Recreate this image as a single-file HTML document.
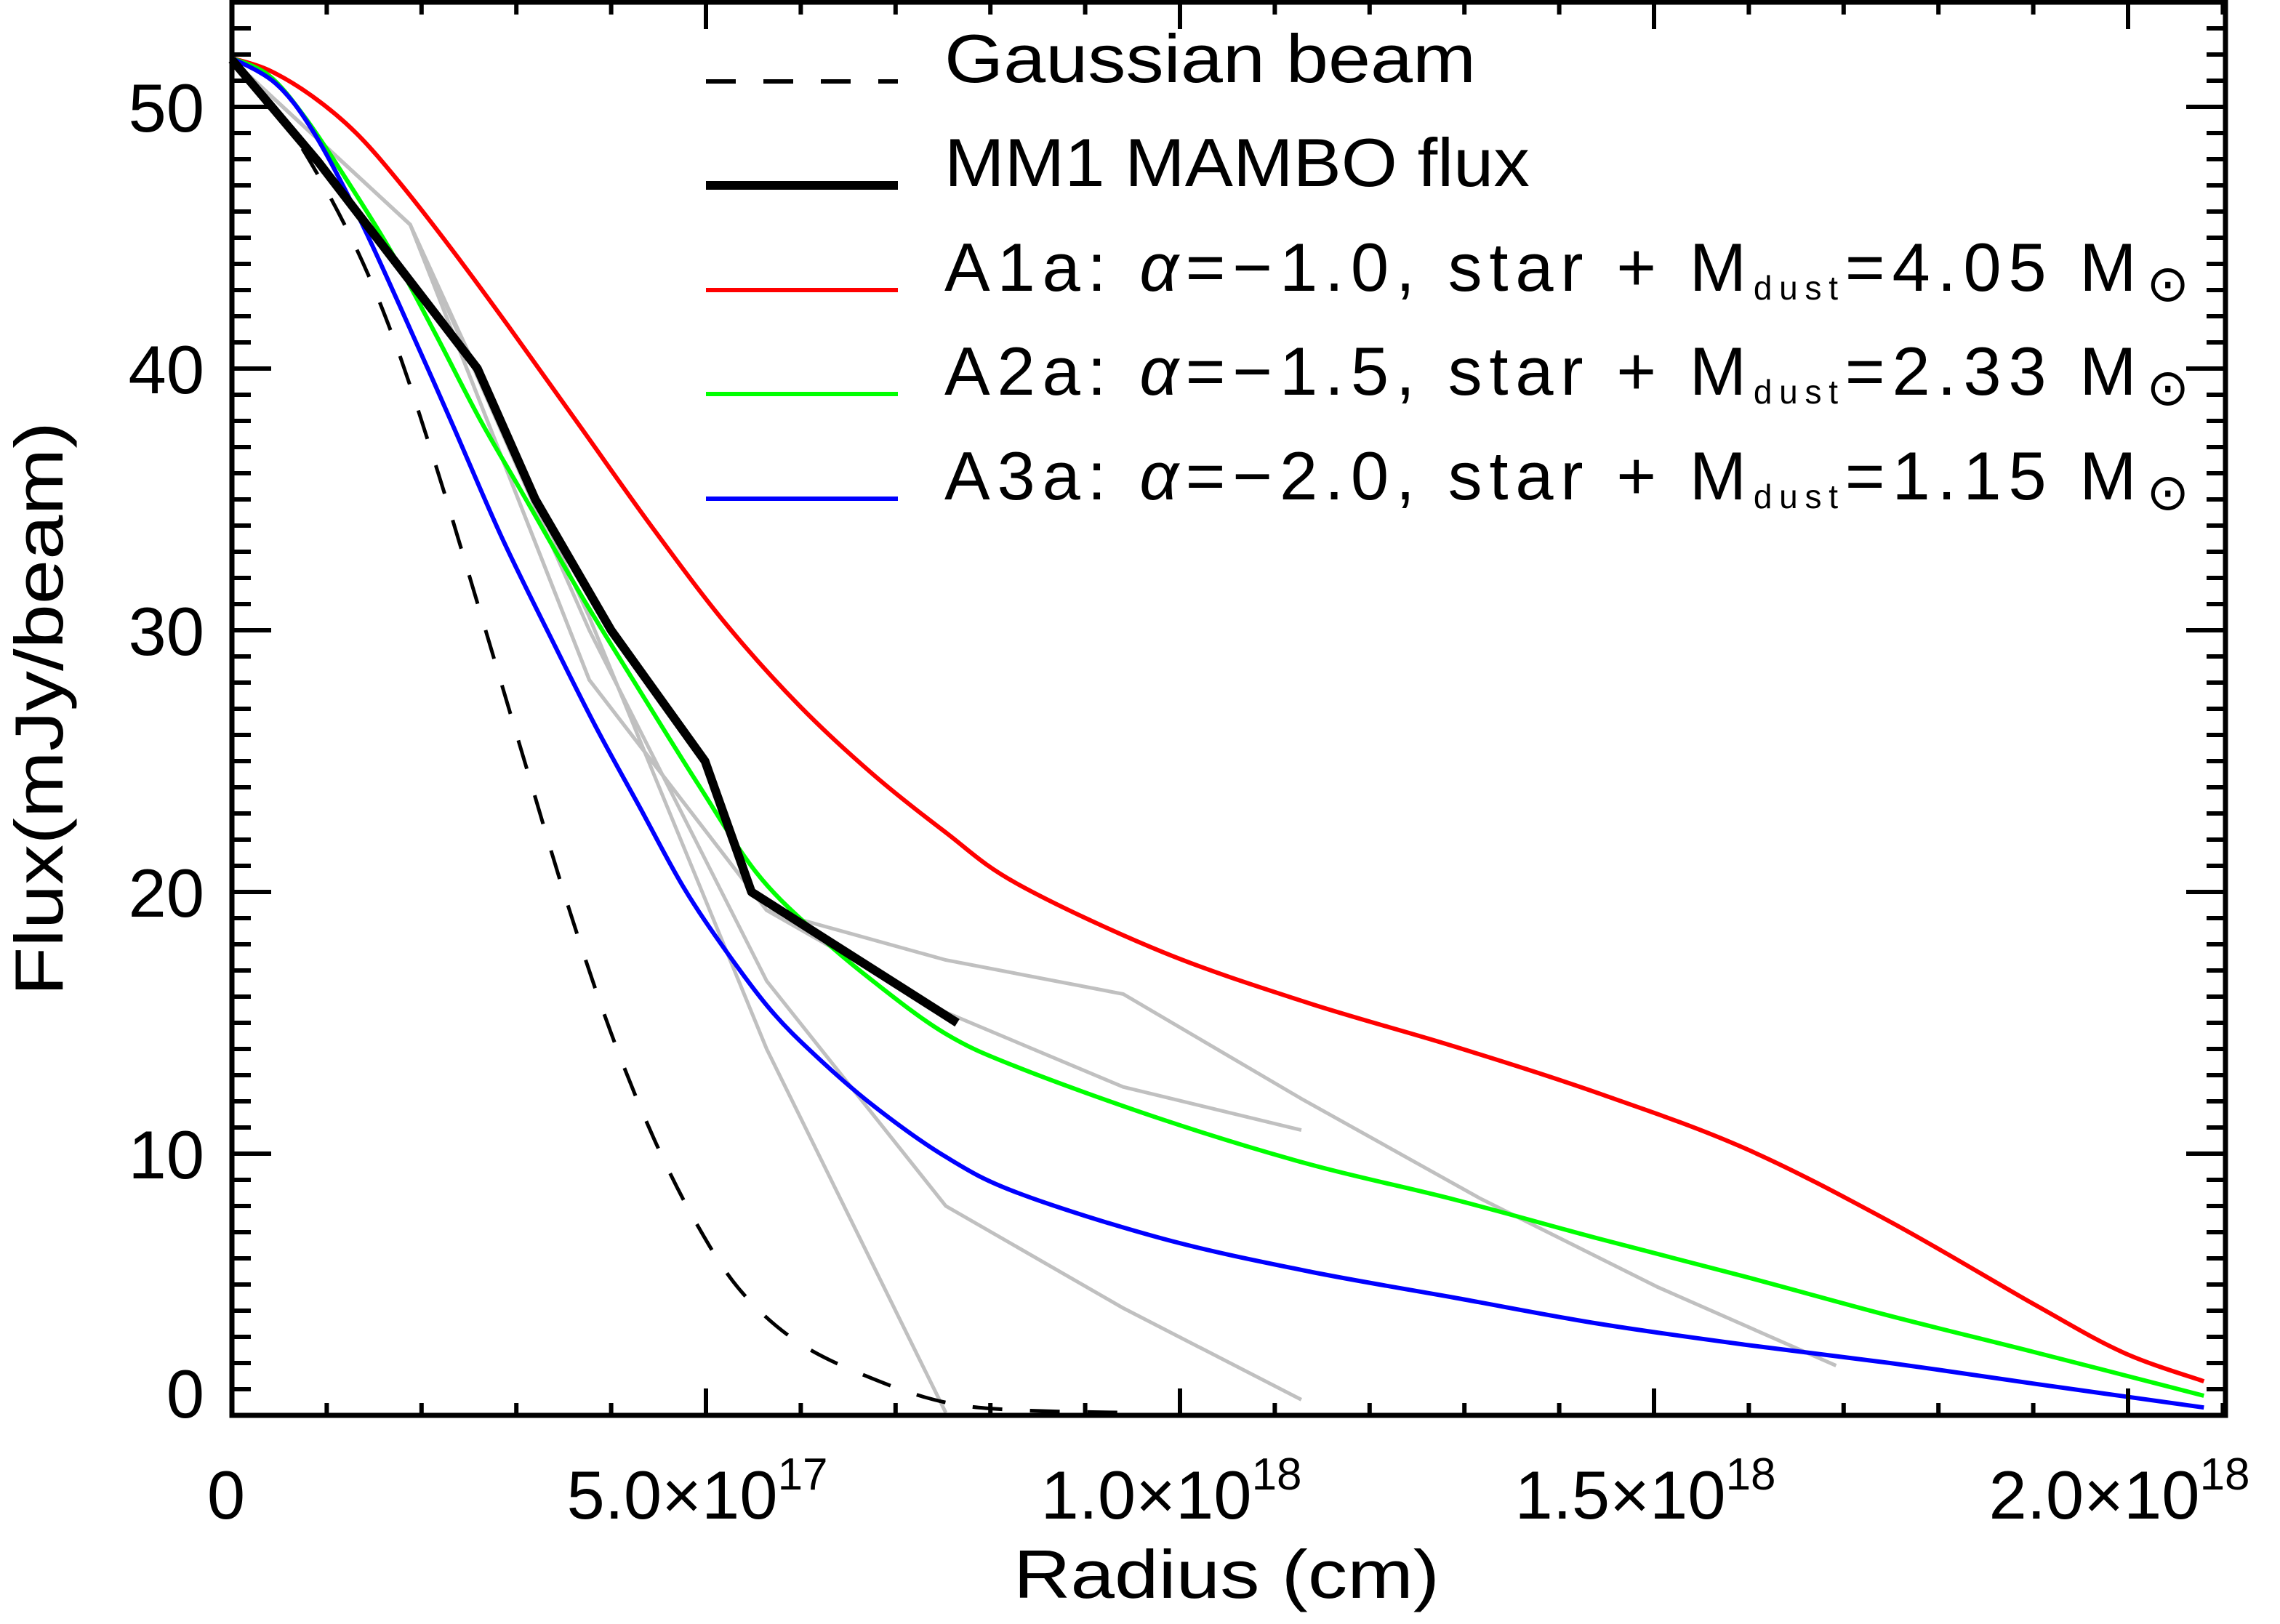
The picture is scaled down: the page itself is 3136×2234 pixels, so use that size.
<!DOCTYPE html>
<html><head><meta charset="utf-8"><style>
html,body{margin:0;padding:0;background:#fff}
svg{display:block}
text{font-family:"Liberation Sans","DejaVu Sans",sans-serif;fill:#000}
</style></head><body>
<svg id="chart" width="3136" height="2234" viewBox="0 0 3136 2234" xmlns="http://www.w3.org/2000/svg">
<g id="series"></g>
<g id="axes"></g>
<g id="legend">
  <line x1="971" y1="112" x2="1235" y2="112" stroke="#000" stroke-width="6" stroke-dasharray="41,38"/>
  <text x="1299" y="113" font-size="94" textLength="731" lengthAdjust="spacingAndGlyphs">Gaussian beam</text>
  <line x1="971" y1="255" x2="1235" y2="255" stroke="#000" stroke-width="12"/>
  <text x="1299" y="256" font-size="94" textLength="805" lengthAdjust="spacingAndGlyphs">MM1 MAMBO flux</text>
  <line x1="971" y1="399" x2="1235" y2="399" stroke="#f00" stroke-width="6"/>
  <text x="1299" y="400" font-size="94" textLength="1712" lengthAdjust="spacing">A1a: <tspan font-style="italic">α</tspan>=−1.0, star + M<tspan font-size="46" dy="12">dust</tspan><tspan dy="-12">=4.05 M</tspan><tspan font-size="70" dx="4" dy="14">⊙</tspan></text>
  <line x1="971" y1="542" x2="1235" y2="542" stroke="#0f0" stroke-width="6"/>
  <text x="1299" y="543" font-size="94" textLength="1712" lengthAdjust="spacing">A2a: <tspan font-style="italic">α</tspan>=−1.5, star + M<tspan font-size="46" dy="12">dust</tspan><tspan dy="-12">=2.33 M</tspan><tspan font-size="70" dx="4" dy="14">⊙</tspan></text>
  <line x1="971" y1="686" x2="1235" y2="686" stroke="#00f" stroke-width="6"/>
  <text x="1299" y="687" font-size="94" textLength="1712" lengthAdjust="spacing">A3a: <tspan font-style="italic">α</tspan>=−2.0, star + M<tspan font-size="46" dy="12">dust</tspan><tspan dy="-12">=1.15 M</tspan><tspan font-size="70" dx="4" dy="14">⊙</tspan></text>
</g>
<text x="1394" y="2198" font-size="94" textLength="586" lengthAdjust="spacingAndGlyphs">Radius (cm)</text>
<text transform="translate(86,1370) rotate(-90)" font-size="94" textLength="790" lengthAdjust="spacingAndGlyphs">Flux(mJy/beam)</text>
</svg>
<script>
// x values in units of 1e17 cm, y in mJy/beam
const redX = [0,0.39,0.85,1.31,1.77,2.31,2.92,3.69,4.46,5.22,5.99,6.76,7.52,8.29,9.82,11.36,12.89,14.42,15.96,17.49,19.03,19.95,20.8];
const redY = [51.86,51.4,50.4,49.0,47.1,44.6,41.6,37.7,33.8,30.2,27.1,24.5,22.3,20.3,17.7,15.75,14.1,12.3,10.2,7.4,4.2,2.4,1.3];
const greenX = [0,0.39,0.77,1.23,1.69,2.15,2.61,3.07,3.69,4.30,4.92,5.53,6.14,6.76,7.52,8.29,9.82,11.36,12.89,14.42,15.96,17.49,19.03,20.8];
const greenY = [51.86,51.2,49.6,47.1,44.4,41.3,38.1,35.2,31.3,27.7,24.1,20.75,18.5,16.6,14.6,13.3,11.3,9.6,8.25,6.75,5.3,3.8,2.4,0.75];
const blueX = [0,0.46,0.85,1.31,1.77,2.31,2.84,3.38,3.84,4.30,4.76,5.22,5.68,6.14,6.76,7.52,8.29,9.82,11.36,12.89,14.42,15.96,17.49,19.03,20.8];
const blueY = [51.86,50.9,49.1,46.0,42.4,38.0,33.6,29.6,26.3,23.25,20.2,17.7,15.5,13.8,11.85,9.9,8.5,6.75,5.5,4.5,3.5,2.7,2.0,1.2,0.3];
const gaussX = [0,0.62,1.23,1.69,2.15,2.61,3.07,3.53,3.99,4.46,4.92,5.38,5.99,6.76,7.52,8.29,9.52];
const gaussY = [51.86,49.1,45.2,41.3,36.3,30.8,25.2,19.65,14.7,10.5,7.2,4.7,2.75,1.4,0.5,0.2,0.1];
const mamboX = [0,0.91,2.59,3.2,4.0,4.99,5.48,7.65];
const mamboY = [51.8,47.9,40,35,30,25,20,15];
const grayX = [0,1.88,3.77,5.64,7.53,9.40,11.28,13.16,15.04,16.92];
const grayA = [51.8,45.5,28.1,19.3,17.4,16.1,12.1,8.3,4.9,1.9];
const grayB = [51.8,45.5,28.1,19.3,15.4,12.55,10.9];
const grayC = [51.8,45.5,30.5,14.0,0.1];
const grayD = [51.8,45.5,30.0,16.6,8.0,4.1,0.6];
const yTicks = [0,10,20,30,40,50];
const yTickLabels = ["0","10","20","30","40","50"];
const xTicks = [0,5,10,15,20];
const xTickMant = ["0","5.0×10","1.0×10","1.5×10","2.0×10"];
const xTickExp = ["","17","18","18","18"];

const L=319,R=3061,T=3,B=1947;
const X = v => L + v*130.4;
const Y = v => B - v*36;
const NS="http://www.w3.org/2000/svg";
const series=document.getElementById('series');
const axes=document.getElementById('axes');

function smoothPath(xs, ys){
  const pts = ys.map((y,i)=>[X(xs[i]),Y(y)]);
  let d = 'M'+pts[0][0].toFixed(1)+','+pts[0][1].toFixed(1);
  for(let i=0;i<pts.length-1;i++){
    const p0=pts[Math.max(0,i-1)],p1=pts[i],p2=pts[i+1],p3=pts[Math.min(pts.length-1,i+2)];
    const c1=[p1[0]+(p2[0]-p0[0])/6,p1[1]+(p2[1]-p0[1])/6];
    const c2=[p2[0]-(p3[0]-p1[0])/6,p2[1]-(p3[1]-p1[1])/6];
    d+=' C'+c1[0].toFixed(1)+','+c1[1].toFixed(1)+' '+c2[0].toFixed(1)+','+c2[1].toFixed(1)+' '+p2[0].toFixed(1)+','+p2[1].toFixed(1);
  }
  return d;
}
function curve(xs, ys, color, w, name, dash){
  const p=document.createElementNS(NS,'path');
  
  
  p.setAttribute('d', smoothPath(xs,ys));
  p.setAttribute('fill','none');
  p.setAttribute('stroke',color);
  p.setAttribute('stroke-width',w);
  if(dash) p.setAttribute('stroke-dasharray',dash);
  series.appendChild(p);
}
function poly(xs, ys, color, w, name, dash){
  const p=document.createElementNS(NS,'polyline');
  
  
  p.setAttribute('points', ys.map((y,i)=>X(xs[i]).toFixed(1)+','+Y(y).toFixed(1)).join(' '));
  p.setAttribute('fill','none');
  p.setAttribute('stroke',color);
  p.setAttribute('stroke-width',w);
  p.setAttribute('stroke-linejoin','round');
  if(dash) p.setAttribute('stroke-dasharray',dash);
  series.appendChild(p);
}
poly(grayX, grayA, '#c0c0c0', 5, 'gray-profile-a');
poly(grayX, grayB, '#c0c0c0', 5, 'gray-profile-b');
poly(grayX, grayC, '#c0c0c0', 5, 'gray-profile-c');
poly(grayX, grayD, '#c0c0c0', 5, 'gray-profile-d');
curve(gaussX, gaussY, '#000', 5, 'gaussian-beam-line', '41,38');
curve(redX, redY, '#f00', 6, 'a1a-model-line');
curve(greenX, greenY, '#0f0', 6, 'a2a-model-line');
curve(blueX, blueY, '#00f', 6, 'a3a-model-line');
poly(mamboX, mamboY, '#000', 12, 'mambo-flux-line');

function ln(x1,y1,x2,y2,w,name){
  const l=document.createElementNS(NS,'line');
  
  
  l.setAttribute('x1',x1);l.setAttribute('y1',y1);l.setAttribute('x2',x2);l.setAttribute('y2',y2);
  l.setAttribute('stroke','#000');l.setAttribute('stroke-width',w);
  axes.appendChild(l);
}
const frame=document.createElementNS(NS,'rect');


frame.setAttribute('x',L);frame.setAttribute('y',T);frame.setAttribute('width',R-L);frame.setAttribute('height',B-T);
frame.setAttribute('fill','none');frame.setAttribute('stroke','#000');frame.setAttribute('stroke-width',7);
axes.appendChild(frame);
for(let i=0;i<=21;i++){
  const len = (i%5===0)?37:17;
  ln(X(i),B,X(i),B-len,6,'x-tick');
  ln(X(i),T,X(i),T+len,6,'x-tick-top');
}
for(let i=1;i<=54;i++){
  const len=(i%10===0)?54:26;
  ln(L,Y(i),L+len,Y(i),6,'y-tick');
  ln(R,Y(i),R-len,Y(i),6,'y-tick-right');
}
yTicks.forEach((v,i)=>{
  const t=document.createElementNS(NS,'text');
  
  
  t.setAttribute('x',281);
  t.setAttribute('y', v===0 ? 1950 : Y(v)+34);
  t.setAttribute('font-size',94);
  t.setAttribute('text-anchor','end');
  t.textContent=yTickLabels[i];
  axes.appendChild(t);
});
xTicks.forEach((v,i)=>{
  const t=document.createElementNS(NS,'text');
  
  
  t.setAttribute('x', v===0 ? X(v)-8 : X(v)-12);
  t.setAttribute('y',2089);
  t.setAttribute('font-size',94);
  t.setAttribute('text-anchor','middle');
  t.textContent=xTickMant[i];
  if(xTickExp[i]){
    const s=document.createElementNS(NS,'tspan');
    s.setAttribute('font-size',62);
    s.setAttribute('dy',-40);
    s.textContent=xTickExp[i];
    t.appendChild(s);
  }
  axes.appendChild(t);
});
</script>
</body></html>
